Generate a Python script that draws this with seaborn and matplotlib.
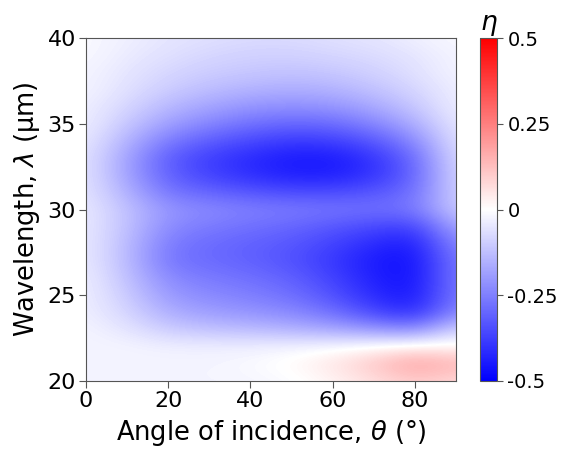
import numpy as np
import matplotlib
matplotlib.use("Agg")
import matplotlib.pyplot as plt
import seaborn as sns

# angle of incidence (deg) and wavelength (um) sampling of the map
angles = [0, 10, 20, 30, 40, 50, 60, 70, 80, 90]
wavelengths = list(range(20, 41))

# eta values, one row per wavelength (20 -> 40 um)
eta = [
    [-0.02, -0.02, -0.02, -0.02, -0.02, -0.01, 0.02, 0.06, 0.10, 0.07],  # 20
    [-0.02, -0.02, -0.02, -0.02, -0.01, 0.01, 0.05, 0.11, 0.19, 0.14],  # 21
    [-0.02, -0.02, -0.03, -0.03, -0.03, -0.02, -0.01, 0.01, 0.03, 0.02], # 22
    [-0.02, -0.05, -0.10, -0.12, -0.13, -0.15, -0.17, -0.20, -0.23, -0.08],
    [-0.03, -0.08, -0.16, -0.19, -0.21, -0.23, -0.28, -0.36, -0.42, -0.22],
    [-0.03, -0.10, -0.20, -0.23, -0.25, -0.28, -0.34, -0.42, -0.46, -0.25],
    [-0.03, -0.12, -0.23, -0.26, -0.28, -0.31, -0.37, -0.44, -0.47, -0.25],
    [-0.04, -0.13, -0.27, -0.29, -0.31, -0.34, -0.39, -0.45, -0.47, -0.25],
    [-0.04, -0.13, -0.26, -0.29, -0.31, -0.33, -0.37, -0.42, -0.45, -0.22],
    [-0.04, -0.12, -0.23, -0.26, -0.28, -0.30, -0.33, -0.36, -0.38, -0.16],
    [-0.04, -0.12, -0.21, -0.23, -0.25, -0.26, -0.27, -0.28, -0.27, -0.09], # 30
    [-0.05, -0.15, -0.27, -0.30, -0.33, -0.35, -0.35, -0.33, -0.28, -0.08],
    [-0.05, -0.18, -0.31, -0.37, -0.41, -0.44, -0.44, -0.40, -0.30, -0.07],
    [-0.05, -0.18, -0.32, -0.38, -0.42, -0.45, -0.45, -0.40, -0.29, -0.06],
    [-0.04, -0.15, -0.26, -0.32, -0.36, -0.39, -0.38, -0.33, -0.23, -0.05],
    [-0.03, -0.11, -0.19, -0.24, -0.28, -0.30, -0.29, -0.24, -0.16, -0.04],
    [-0.03, -0.08, -0.14, -0.18, -0.21, -0.22, -0.21, -0.17, -0.11, -0.03],
    [-0.02, -0.06, -0.10, -0.13, -0.15, -0.16, -0.15, -0.12, -0.08, -0.03],
    [-0.02, -0.05, -0.08, -0.10, -0.11, -0.12, -0.11, -0.09, -0.06, -0.02],
    [-0.01, -0.04, -0.06, -0.08, -0.09, -0.09, -0.08, -0.07, -0.05, -0.02],
    [-0.01, -0.03, -0.05, -0.06, -0.07, -0.07, -0.06, -0.05, -0.03, -0.01], # 40
]

cbar_ticks = [-0.5, -0.25, 0, 0.25, 0.5]
cbar_labels = ["-0.5", "-0.25", "0", "0.25", "0.5"]

sns.set_style("ticks")
plt.rcParams["font.family"] = ["DejaVu Sans"]
plt.rcParams["mathtext.fontset"] = "dejavusans"
plt.rcParams["text.color"] = "black"
plt.rcParams["axes.labelcolor"] = "black"

fig = plt.figure(figsize=(5.61, 4.55), dpi=100)
ax = fig.add_axes([0.153, 0.163, 0.660, 0.753])
cax = fig.add_axes([0.856, 0.163, 0.030, 0.753])

da = angles[1] - angles[0]
dw = wavelengths[1] - wavelengths[0]
im = ax.imshow(np.array(eta), cmap="bwr", vmin=-0.5, vmax=0.5, origin="lower",
               aspect="auto", interpolation="bicubic",
               extent=[angles[0] - da / 2, angles[-1] + da / 2,
                       wavelengths[0] - dw / 2, wavelengths[-1] + dw / 2])
ax.set_xlim(0, 90)
ax.set_ylim(20, 40)
ax.set_xticks([0, 20, 40, 60, 80])
ax.set_yticks([20, 25, 30, 35, 40])
ax.tick_params(labelsize=16, color="#555555", labelcolor="black", length=5, pad=2)
for s in ax.spines.values():
    s.set_color("#555555")
ax.set_xlabel(r"Angle of incidence, $\theta$ (°)", fontsize=18.5, labelpad=5)
ax.set_ylabel(r"Wavelength, $\lambda$ (μm)", fontsize=18.5, labelpad=4)

cb = fig.colorbar(im, cax=cax, ticks=cbar_ticks)
cb.ax.set_yticklabels(cbar_labels)
cb.ax.tick_params(labelsize=14, color="#555555", labelcolor="black", length=4)
cb.outline.set_edgecolor("#555555")
cb.ax.set_title(r"$\eta$", fontsize=19, pad=3)

fig.savefig("out.png", dpi=100)
